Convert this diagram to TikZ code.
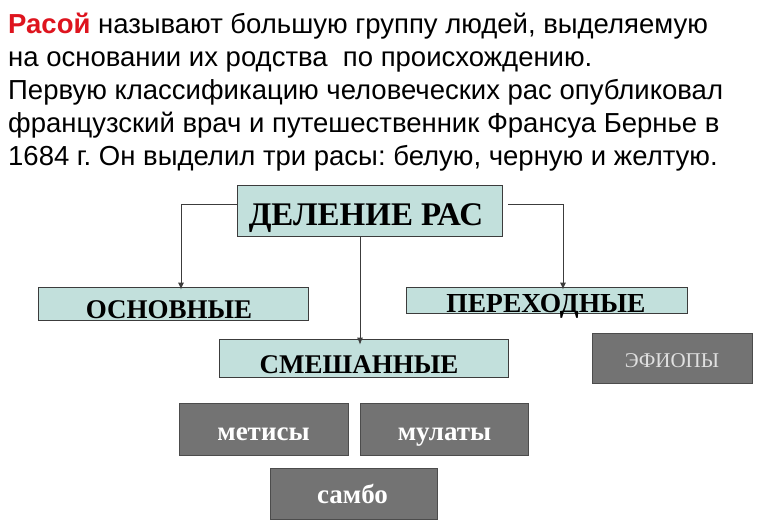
\documentclass[tikz,border=0pt]{standalone}
\usepackage{fontspec}
\usetikzlibrary{arrows.meta}
\setmainfont{Liberation Serif}
\newfontfamily\arialf{Liberation Sans}
\definecolor{teal1}{RGB}{194,224,220}
\definecolor{grayf}{RGB}{115,115,115}
\definecolor{redt}{RGB}{222,20,30}
\definecolor{linec}{RGB}{60,60,60}
\frenchspacing
\begin{document}
\begin{tikzpicture}[x=1pt,y=-1pt,
  txt/.style={anchor=base west,inner sep=0pt,font=\arialf\fontsize{27.5}{30}\selectfont},
  tbox/.style={draw=linec,fill=teal1,line width=0.8pt,inner sep=0pt},
  gbox/.style={draw=black!70,fill=grayf,line width=0.8pt,inner sep=0pt},
  tlab/.style={anchor=base,inner sep=0pt,font=\bfseries\fontsize{27}{30}\selectfont},
  glab/.style={anchor=base,inner sep=0pt,text=white,font=\bfseries\fontsize{27}{30}\selectfont},
  conn/.style={draw=linec,line width=0.8pt,-{Latex[length=7pt,width=6pt]}}]
\useasboundingbox (0,0) rectangle (760,530);
\fill[white] (0,0) rectangle (760,530);
% text
\node[txt] (l1) at (8,33) {\textcolor{redt}{\textbf{Расой}} называют большую группу людей, выделяемую};
\node[txt] (l2) at (8,66) {на основании их родства\ \ по происхождению.};
\node[txt] (l3) at (8,99) {Первую классификацию человеческих рас опубликовал};
\node[txt] (l4) at (8,132) {французский врач и путешественник Франсуа Бернье в};
\node[txt] (l5) at (8,165) {1684 г. Он выделил три расы: белую, черную и желтую.};
% boxes
\node[tbox,minimum width=265pt,minimum height=51pt] (del) at (369.5,210.5) {};
\node[tlab,font=\bfseries\fontsize{33}{36}\selectfont] (delt) at (366,225) {ДЕЛЕНИЕ РАС};
\node[tbox,minimum width=270pt,minimum height=33pt] (osn) at (173,303.5) {};
\node[tlab] (osnt) at (169,318) {ОСНОВНЫЕ};
\node[tbox,minimum width=281pt,minimum height=26pt] (per) at (546.5,300) {};
\node[tlab,font=\bfseries\fontsize{27.5}{30}\selectfont] (pert) at (546,312) {ПЕРЕХОДНЫЕ};
\node[tbox,minimum width=289pt,minimum height=38pt] (sme) at (363.5,358) {};
\node[tlab] (smet) at (359,373) {СМЕШАННЫЕ};
\node[gbox,minimum width=160pt,minimum height=50pt] (efi) at (672,358) {};
\node[glab,text=black!12,font=\fontsize{21}{24}\selectfont] (efit) at (672,367) {ЭФИОПЫ};
\node[gbox,minimum width=169pt,minimum height=52pt] (met) at (263.5,429) {};
\node[glab] (mett) at (263.5,440) {метисы};
\node[gbox,minimum width=168pt,minimum height=52pt] (mul) at (444,429) {};
\node[glab] (mult) at (444.5,440) {мулаты};
\node[gbox,minimum width=167pt,minimum height=51pt] (sam) at (353.5,493.5) {};
\node[glab] (samt) at (352.5,503) {самбо};
% connectors
\coordinate (cl) at (181,204);
\coordinate (cr) at (563,204);
\coordinate (cm) at (360,0);
\draw[conn] (del.west |- cl) -- (cl) -- ([yshift=-3pt]cl |- osn.north);
\draw[conn] ([xshift=6pt]del.east |- cr) -- (cr) -- ([yshift=-3pt]cr |- per.north);
\draw[conn] (del.south -| cm) -- ([yshift=-6pt]sme.north -| cm);
\end{tikzpicture}
\end{document}
